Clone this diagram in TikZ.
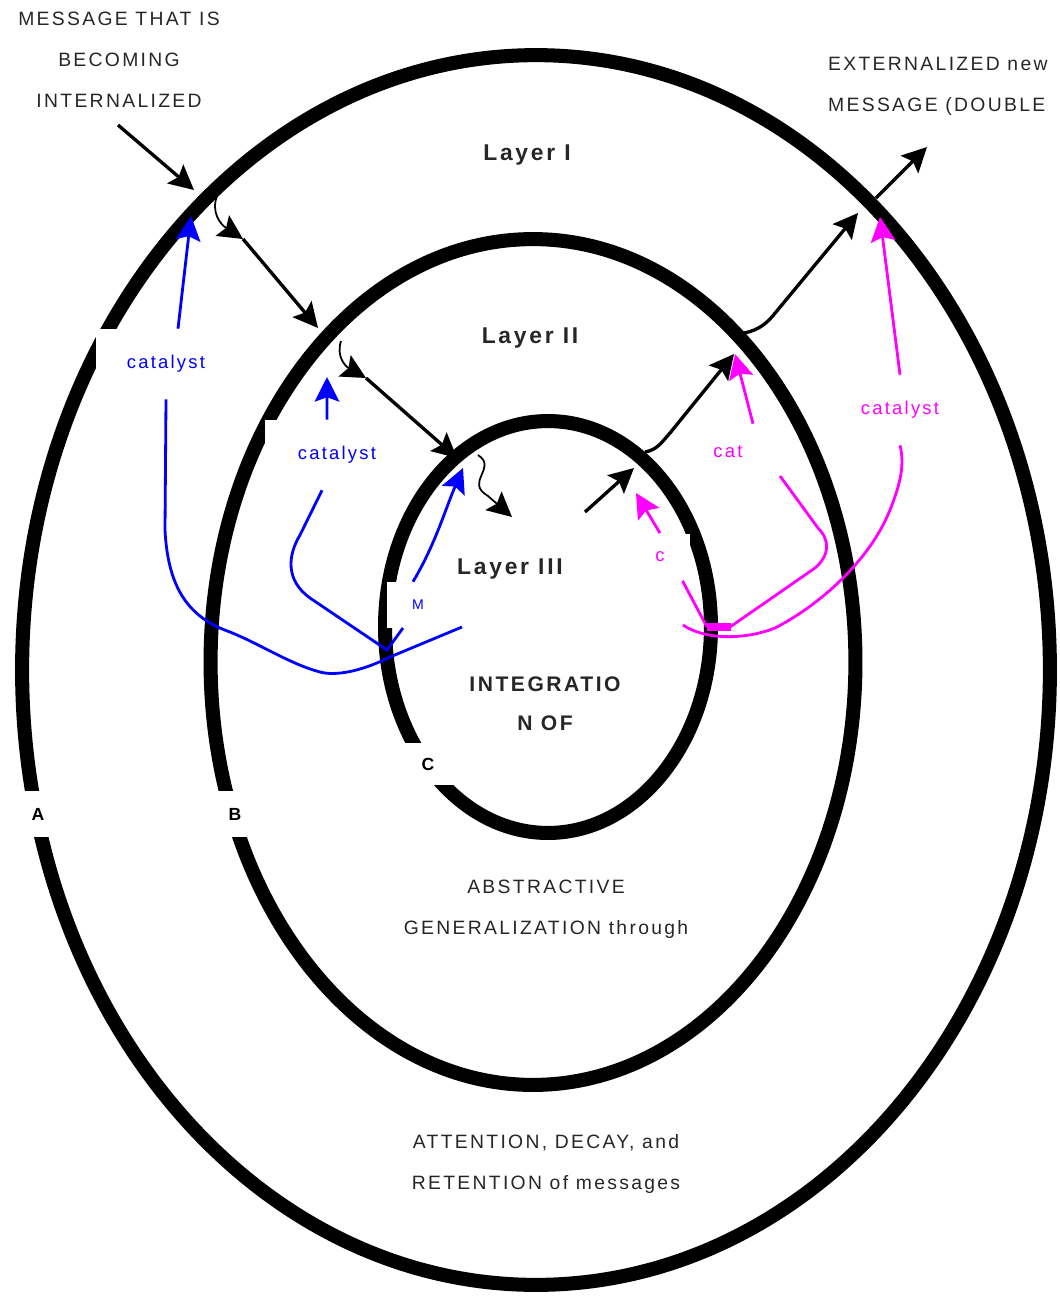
\documentclass[tikz,border=0pt]{standalone}
\usepackage{fontspec}
\setmainfont{Liberation Sans}
\newfontfamily\spaced[LetterSpace=12]{Liberation Sans}
\usetikzlibrary{arrows.meta}
\definecolor{catblue}{RGB}{0,0,255}
\definecolor{catpink}{RGB}{255,0,255}

\begin{document}
\begin{tikzpicture}[
    x=0.02cm, y=-0.02cm,
    >={Stealth[length=14pt,width=14pt,inset=2.5pt]},
    ring/.style={draw=black, line width=8pt},
    arr/.style={->, line width=1.9pt, draw=black},
    hook/.style={arr, line width=1pt},
    cat/.style={line width=1.6pt, draw=catblue},
    catarr/.style={cat, ->},
    mag/.style={line width=1.6pt, draw=catpink},
    magarr/.style={mag, ->},
    gap/.style={fill=white, inner sep=0pt},
    catlbl/.style={
        gap,
        text=catblue,
        font=\spaced\fontsize{10.5}{12}\selectfont,
        minimum width=2.8cm,
        minimum height=1.4cm
    },
    maglbl/.style={catlbl, text=catpink},
    letter/.style={
        gap,
        font=\bfseries\fontsize{10}{12}\selectfont,
        minimum width=1cm,
        minimum height=0.92cm
    },
    txt/.style={
        align=center,
        text=black!85,
        font=\spaced\fontsize{11}{23.2}\selectfont
    },
    layer/.style={text=black!85, font=\spaced\bfseries\fontsize{13}{16}\selectfont}
]
    \useasboundingbox (0,0) rectangle (1060,1296);

    \draw[ring] (536,670) ellipse [x radius=10.28cm, y radius=12.3cm];
    \draw[ring] (533,662) ellipse [x radius=6.45cm, y radius=8.46cm];
    \draw[ring] (548,627) ellipse [x radius=3.26cm, y radius=4.12cm];

    \node[catlbl] (catA) at (166,364) {catalyst};
    \node[catlbl, minimum width=2.88cm] (catB) at (337,455) {catalyst};
    \node[gap, text=catblue, font=\fontsize{8}{9}\selectfont,
        minimum width=1.24cm, minimum height=0.92cm] (mlbl) at (418,605) {M};
    \node[maglbl] (catR) at (900,410) {catalyst};
    \node[maglbl, minimum width=1.6cm, minimum height=1.12cm] (catM) at (728,452) {cat};
    \node[maglbl, minimum width=1.2cm, minimum height=0.94cm] (cmag) at (660,557) {c};
    \node[letter] (la) at (38,814) {A};
    \node[letter] (lb) at (235,814) {B};
    \node[letter, minimum width=1.2cm, minimum height=0.84cm] (lc) at (428,764) {C};

    \node[txt] (msgin) at (119,60)
        {MESSAGE THAT IS\\BECOMING\\INTERNALIZED};
    \node[txt, align=left, anchor=west] (msgout) at (822,86)
        {EXTERNALIZED new\\MESSAGE (DOUBLE};
    \node[layer] (l1) at (527,155) {Layer I};
    \node[layer] (l2) at (530,338) {Layer II};
    \node[layer] (l3) at (510,569) {Layer III};
    \node[txt, font=\spaced\bfseries\fontsize{12}{22}\selectfont] (integ) at (545,704)
        {INTEGRATIO\\N OF};
    \node[txt] (abstr) at (546,909) {ABSTRACTIVE\\GENERALIZATION through};
    \node[txt] (atten) at (546,1164) {ATTENTION, DECAY, and\\RETENTION of messages};

    \coordinate (inA) at (118,125);
    \coordinate (inB) at (194,190);
    \coordinate (h1) at (217,196);
    \coordinate (k1) at (243,239);
    \coordinate (k2) at (318,328);
    \coordinate (h2) at (341,341);
    \coordinate (k3) at (366,378);
    \coordinate (k4) at (457,458);
    \coordinate (h3) at (478,455);
    \coordinate (k5) at (512,517);
    \coordinate (out1) at (585,512);
    \coordinate (out2) at (634,468);
    \coordinate (out3) at (645,452);
    \coordinate (out4) at (734,354);
    \coordinate (out5) at (744,333);
    \coordinate (out6) at (858,213);
    \coordinate (out7) at (876,198);
    \coordinate (out8) at (927,147);

    \draw[arr] (inA) -- (inB);
    \draw[hook] (h1) .. controls (211,212) and (220,224) .. (k1);
    \draw[arr] (k1) -- (k2);
    \draw[hook] (h2) .. controls (336,356) and (345,366) .. (k3);
    \draw[arr] (k3) -- (k4);
    \draw[hook] (h3) .. controls (498,468) and (464,482) .. (488,496) -- (k5);
    \draw[arr] (out1) -- (out2);
    \draw[arr] (out3) .. controls (657,450) and (662,442) .. (670,433) -- (out4);
    \draw[arr] (out5) .. controls (760,330) and (768,322) .. (776,312) -- (out6);
    \draw[arr] (out7) -- (out8);

    \coordinate (b1s) at (462,627);
    \coordinate (b1t) at (191,216);
    \coordinate (b2s) at (403,628);
    \coordinate (b2t) at (327,377);
    \coordinate (b3t) at (463,468);

    \draw[cat] (b1s) -- (390,657) .. controls (360,672) and (335,676) .. (320,672)
        .. controls (290,664) and (262,645) .. (230,632)
        .. controls (190,618) and (168,590) .. (165,530) -- (catA.south);
    \draw[catarr] ([xshift=0.24cm]catA.north) -- (b1t);
    \draw[cat] (b2s) -- (387,650) -- (310,598) .. controls (285,580) and (288,555) .. (300,535)
        -- ([xshift=-0.3cm]catB.south);
    \draw[catarr] ([xshift=-0.2cm]catB.north) -- (b2t);
    \draw[catarr] ([xshift=-0.1cm]mlbl.north) .. controls (435,545) and (445,510) .. (b3t);

    \coordinate (m1s) at (683,625);
    \coordinate (m1t) at (880,217);
    \coordinate (m2s) at (707,627);
    \coordinate (m2e) at (780,476);
    \coordinate (m2t) at (735,354);
    \coordinate (m3t) at (636,493);

    \draw[mag] (m1s) .. controls (705,640) and (745,640) .. (775,628)
        .. controls (820,605) and (870,560) .. (890,510)
        .. controls (900,485) and (905,465) .. (catR.south);
    \draw[magarr] (catR.north) -- (m1t);
    \draw[mag] (m2s) -- (730,627) -- (815,568) .. controls (830,555) and (830,540) .. (818,528)
        -- (m2e);
    \draw[magarr] ([xshift=0.5cm]catM.north) -- (m2t);
    \draw[mag] ([xshift=0.45cm]cmag.south) -- (m2s);
    \draw[magarr] (cmag.north) -- (m3t);
    \draw[draw=catpink, line width=4pt] (m2s) -- (731,627);
\end{tikzpicture}
\end{document}
